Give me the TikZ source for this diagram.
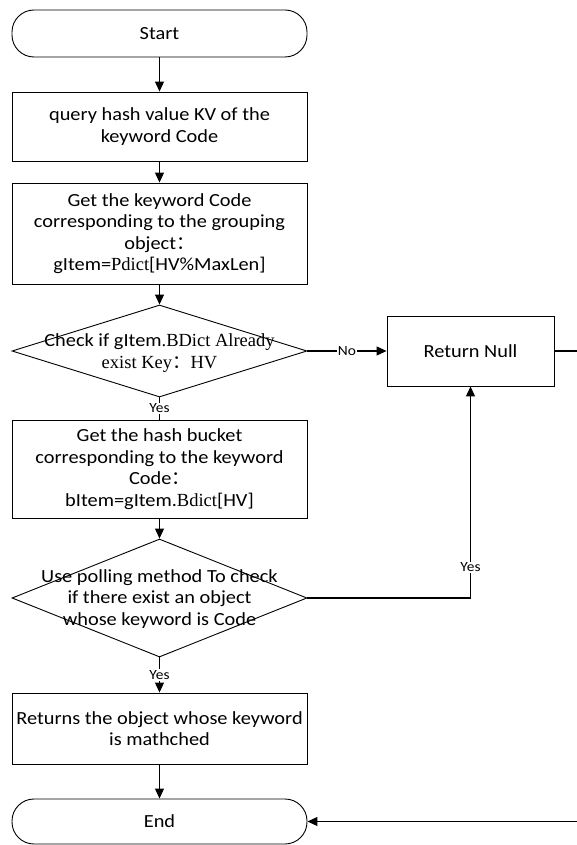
\documentclass[tikz,border=0pt]{standalone}
\usepackage{fontspec}
\setmainfont{Carlito}[FakeStretch=1.1]
\newfontfamily\serifpart{Liberation Serif}
\newfontfamily\cjk{Noto Sans CJK SC}
\usetikzlibrary{shapes.geometric,arrows.meta}
\tikzset{
  mainfont/.style={font=\fontsize{18.5}{21.5}\selectfont},
  term/.style={draw, line width=0.9pt, rounded corners=22pt, minimum width=295pt, inner sep=0pt, mainfont},
  stepbox/.style={draw, line width=0.9pt, minimum width=295pt, inner sep=0pt, align=center, mainfont},
  dia/.style={draw, line width=0.9pt, diamond, minimum width=295pt, inner sep=0pt},
  txt/.style={align=center, inner sep=0pt, mainfont},
  arr/.style={line width=1.1pt, -{Triangle[length=10pt,width=9pt]}},
  conn/.style={line width=1.1pt},
  lbl/.style={fill=white, inner sep=1pt, font=\fontsize{14}{14}\selectfont},
}
\begin{document}
\begin{tikzpicture}[x=1pt,y=-1pt]
\useasboundingbox (0,0) rectangle (577,845);
\clip (0,0) rectangle (577,845);
\fill[white] (0,0) rectangle (577,845);

\node[term, minimum height=47pt] (start) at (159.5,33.5) {Start};
\node[stepbox, minimum height=69pt] (b1) at (159.5,126.5) {query hash value KV of the\\keyword Code};
\node[stepbox, minimum height=101pt] (b2) at (159.5,233.5) {Get the keyword Code\\corresponding to the grouping\\object{\cjk ：}\\gItem={\serifpart Pdict}[HV\%MaxLen]};
\node[dia, minimum height=92pt] (d1) at (159.5,351) {};
\node[txt] (d1t) at (159.5,353) {Check if gItem{\serifpart .BDict Already}\\{\serifpart exist Key}{\cjk ：}{\serifpart HV}};
\node[stepbox, minimum height=98pt] (b3) at (159.5,469) {Get the hash bucket\\corresponding to the keyword\\Code{\cjk ：}\\bItem=gItem.{\serifpart Bdict}[HV]};
\node[dia, minimum height=118pt] (d2) at (159.5,598) {};
\node[txt] (d2t) at (159.5,599) {Use polling method To check\\if there exist an object\\whose keyword is Code};
\node[stepbox, minimum height=71pt] (b4) at (159.5,728.5) {Returns the object whose keyword\\is mathched};
\node[term, minimum height=45pt] (end) at (159.5,821.5) {End};
\node[stepbox, minimum width=167pt, minimum height=70pt] (rn) at (470.5,351) {Return Null};
\coordinate (offR) at (600,351);

\draw[arr] (start) -- (b1);
\draw[arr] (b1) -- (b2);
\draw[arr] (b2) -- (d1);
\draw[conn] (d1) -- node[lbl] (y1) {Yes} (b3);
\draw[arr] (b3) -- (d2);
\draw[arr] (d2) -- node[lbl] (y2) {Yes} (b4);
\draw[arr] (b4) -- (end);
\draw[arr] (d1.east) -- node[lbl] (n1) {No} (rn.west);
\draw[arr] (d2.east) -| node[lbl, pos=0.573] (y3) {Yes} (rn.south);
\draw[arr] (rn.east) -- (offR) |- (end.east);
\end{tikzpicture}
\end{document}
